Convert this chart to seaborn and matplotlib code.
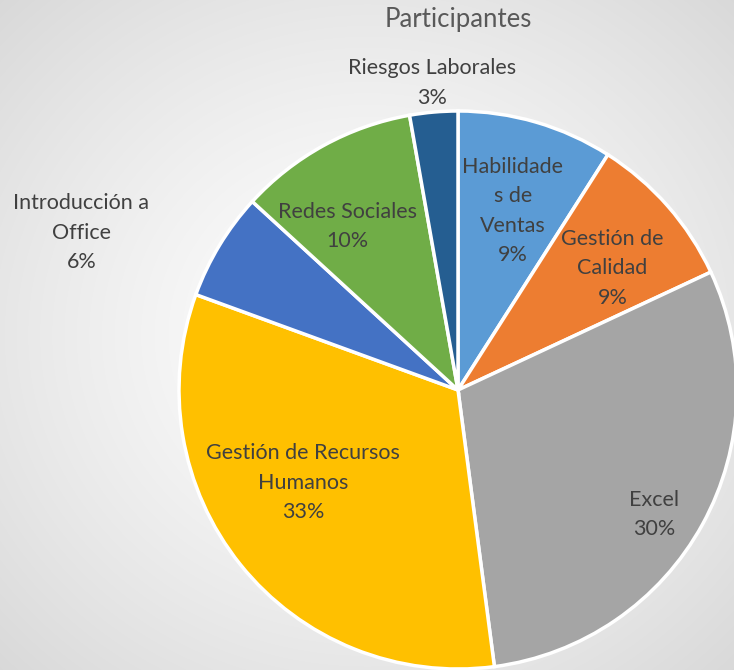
import numpy as np
import matplotlib
matplotlib.use("Agg")
import matplotlib.pyplot as plt
import seaborn as sns

sns.set_theme(style="white")
plt.rcParams['font.family'] = ['Lato', 'DejaVu Sans']

# participant counts per course
cursos = ["Habilidade\ns de\nVentas", "Gestión de\nCalidad", "Excel",
          "Gestión de Recursos\nHumanos", "Introducción a\nOffice",
          "Redes Sociales", "Riesgos Laborales"]
participantes = [13, 13, 43, 47, 9, 15, 4]
colores = ["#5B9BD5", "#ED7D31", "#A5A5A5", "#FFC000",
           "#4472C4", "#70AD47", "#255E91"]

# label anchors (pie radius units, relative to pie centre)
label_pos = [(0.196, 0.642), (0.554, 0.436), (0.704, -0.446),
             (-0.554, -0.332), (-1.35, 0.564), (-0.396, 0.586),
             (-0.093, 1.10)]

W, H = 734, 670
cx, cy, R = 458, 390, 279

fig = plt.figure(figsize=(W / 100, H / 100), dpi=100)

# radial gradient background
bg = fig.add_axes([0, 0, 1, 1])
yy, xx = np.mgrid[0:H, 0:W]
d = np.hypot((xx - W / 2) / (W / 2), (yy - H / 2) / (H / 2)) / np.sqrt(2)
shade = 1.0 - 0.15 * d ** 1.3
bg.imshow(np.dstack([shade] * 3), aspect="auto", extent=[0, 1, 0, 1])
bg.axis("off")

ax = fig.add_axes([0, 0, 1, 1])
ax.set_facecolor("none")
ax.pie(participantes, colors=colores, startangle=90, counterclock=False,
       radius=1, wedgeprops=dict(edgecolor="white", linewidth=2.5))
ax.set_xlim(-cx / R, (W - cx) / R)
ax.set_ylim(-(H - cy) / R, cy / R)
ax.set_aspect("equal")
ax.axis("off")

total = sum(participantes)
for nombre, n, (x, y) in zip(cursos, participantes, label_pos):
    ax.text(x, y, f"{nombre}\n{round(100 * n / total)}%", ha="center",
            va="center", fontsize=15.5, color="#404040", linespacing=1.58)

ax.text(0, 370 / R, "Participantes", ha="center", va="center",
        fontsize=18.5, color="#595959")

fig.savefig("out.png", dpi=100)
